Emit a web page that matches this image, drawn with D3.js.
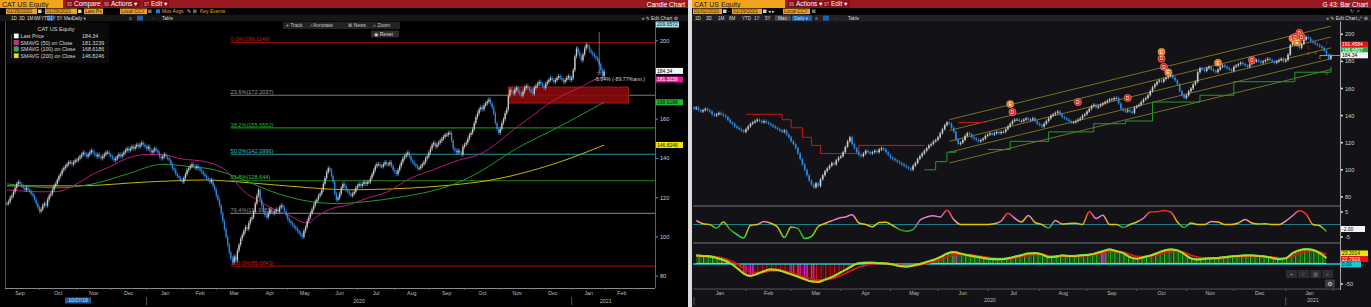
<!DOCTYPE html>
<html>
<head>
<meta charset="utf-8">
<script src="https://cdn.jsdelivr.net/npm/d3@7/dist/d3.min.js"></script>
<style>
  body { margin: 0; background: #000; }
  svg { display: block; }
  text { font-family: "Liberation Sans", "DejaVu Sans", sans-serif; }
</style>
</head>
<body>
<svg id="chart" width="1371" height="307"></svg>
<script>
// ---------- CAT US Equity, daily closes (one array per month) ----------
var closeSep19 = [117,118,120,121,123,125,127,128,127,126,125,124,125,124,123,122,121,119,117,115];
var closeOct19 = [113,114,116,117,116,119,121,122,124,126,127,129,131,132,134,135,136,137,138,138,137,138,139];
var closeNov19 = [139,140,141,142,143,142,141,142,143,144,143,142,141,142,141,140,141,142,143,143,142];
var closeDec19 = [141,140,139,140,141,142,141,142,143,144,145,144,145,146,145,146,147,146,147,148,147,146];
var closeJan20 = [145,146,144,143,144,145,144,143,141,140,141,142,141,140,139,137,135,134,132,131,130,129,128];
var closeFeb20 = [130,132,134,135,136,137,136,135,136,135,134,133,132,131,130,129,128,129,126,124];
var closeMar20 = [121,119,116,112,108,104,100,96,92,89,87,90,88,93,96,99,101,103,105,104,107,109];
var closeApr20 = [110,113,117,121,124,119,116,113,111,110,112,114,113,112,113,114,113,115,116,115,113,111];
var closeMay20 = [109,108,107,106,105,104,103,102,101,100,103,105,108,110,112,114,116,118,119,121,122];
var closeJun20 = [124,127,130,133,135,134,131,128,122,119,120,122,125,127,126,124,123,122,121,122,123,125];
var closeJul20 = [126,127,126,127,128,127,128,128,130,132,134,136,137,137,136,136,137,138,137,137,138,136,134];
var closeAug20 = [133,132,134,136,138,140,141,142,143,141,139,138,137,136,135,135,136,137,138,140,141];
var closeSep20 = [143,145,147,148,146,147,148,149,150,151,152,152,153,153,149,145,144,143,144,143,142,146];
var closeOct20 = [147,148,150,152,153,155,158,161,163,165,166,165,167,168,169,170,168,166,163,158,155,153];
var closeNov20 = [155,158,160,163,165,172,175,174,173,175,176,174,173,172,174,176,177,176,175,174,173];
var closeDec20 = [176,177,178,179,178,177,176,178,179,180,181,180,179,180,181,182,181,180,179,180,181,182,180];
var closeJan21 = [181,185,192,196,194,192,190,193,196,198,197,195,194,193,192,191,190,188,185,182,184.34];
var monthCloses = [closeSep19, closeOct19, closeNov19, closeDec19, closeJan20, closeFeb20, closeMar20,
  closeApr20, closeMay20, closeJun20, closeJul20, closeAug20, closeSep20, closeOct20, closeNov20, closeDec20, closeJan21];
var firstDay = "2019-09-03";

// simple moving averages
var sma50 = [["2019-09-03",124],["2019-10-01",123],["2019-10-15",123],["2019-11-01",127],["2019-11-15",132],
  ["2019-12-02",136],["2019-12-16",140],["2020-01-02",142],["2020-01-15",142],["2020-01-29",140],["2020-02-24",138],
  ["2020-03-11",133],["2020-03-24",124],["2020-04-08",118],["2020-04-22",113.6],["2020-05-04",111],["2020-05-14",107.5],
  ["2020-05-19",107],["2020-05-28",111],["2020-06-10",114.6],["2020-06-22",116],["2020-07-09",119.7],["2020-07-27",122.8],
  ["2020-08-17",130],["2020-09-03",134],["2020-09-25",139],["2020-10-14",142],["2020-11-18",157],["2020-12-24",172],
  ["2021-01-08",176],["2021-01-21",180],["2021-01-29",181.32]];
var sma100 = [["2019-09-03",127],["2019-10-15",125],["2019-11-15",127],["2019-12-16",132],["2020-01-15",137],
  ["2020-02-05",136],["2020-03-02",134],["2020-03-25",129],["2020-04-23",122],["2020-05-21",118],["2020-06-12",117],
  ["2020-07-09",118],["2020-08-04",120],["2020-09-01",123],["2020-09-23",127],["2020-10-14",133],["2020-11-16",145],
  ["2020-12-22",156],["2021-01-29",168.62]];
var sma200 = [["2019-09-03",126],["2019-11-01",126],["2020-01-02",128],["2020-02-20",129],["2020-03-20",128],
  ["2020-05-21",125],["2020-06-24",124],["2020-07-28",124.4],["2020-08-31",125.4],["2020-09-30",127],["2020-10-14",128],
  ["2020-12-22",138],["2021-01-29",146.82]];

var legendTitle = "CAT US Equity";
var legendNames = ["Last Price", "SMAVG (50) on Close", "SMAVG (100) on Close", "SMAVG (200) on Close"];
var legendValues = ["184.34", "181.3239", "168.6186", "146.8246"];
var lastPrice = 184.34;

// Fibonacci retracement
var fibHigh = 199.1149, fibLow = 85.0843;
var fibPcts = [0, 23.6, 38.2, 50, 61.8, 76.4, 100];

// highlighted zone and measure note
var zone = {from: "2020-11-09", to: "2021-02-19", lo: 168.2, hi: 176.4};
var measureNote = "-5.94% (-89.77%ann.)";
var measureTop = 204.5;

var priceTicks = [200, 180, 160, 140, 120, 100, 80];
var monthNames = ["Jan","Feb","Mar","Apr","May","Jun","Jul","Aug","Sep","Oct","Nov","Dec"];

// ---------- right chart studies ----------
// oscillator, one value every 3 trading days from 2020-01-02
var oscVals = [1.6,0.3,0,-1.5,1.0,-2,-4,-5.4,-0.3,0,1.2,0.5,-1,-5.2,-1,-1.6,-5.6,-4.8,-0.8,0.4,
  1.5,2.5,3,3.9,0.6,0,-0.9,0.8,0.9,-0.4,-2,-2.7,-2,1.7,3,3.5,3,5.7,2,0,
  0,0,0,0,0.3,1.4,4.5,2.5,1,3.6,0.8,0,-1.4,1.6,0.2,0.4,0.5,0,5.2,2.4,
  3.7,0,0,-1.2,0,1,2.5,5,5.1,5.6,5,1,-1.2,0.6,0,0,1.2,1,0,0,
  0.6,2,0.6,0.2,0.3,0,0,1.4,3.5,5.5,4.2,0,-0.5,-2.8];
// momentum study, same sampling
var momVals = [21,20,19,15,10,2,-10,-24,-30,-25,-18,-14,-15,-20,-26,-32,-38,-44,-45,-39,
  -33,-24,-15,-5,2,3,3,2,1,-1,-5,-7,-4,0,5,10,17,26,30,26,
  22,19,16,13,12,12,14,18,22,26,27,24,17,18,21,20,20,22,23,27,
  32,36,32,27,17,13,17,21,27,33,36,34,25,14,11,13,14,15,17,19,
  20,21,21,20,18,15,12,14,27,34,37,35,27,15];
var studyStart = "2020-01-02", studyStep = 3;
// samples whose histogram bars show in magenta
var magentaSamples = [7, 8, 14, 15, 16, 17, 38, 60];

// regression channel
var chanFrom = ["2020-06-08", 121], chanTo = ["2021-01-29", 190];
var chanOffsets = [-16, -8, 0, 8, 16];

// trailing stop
var stopSegs = [
  {up: false, pts: [["2020-02-03",141],["2020-02-21",141],["2020-02-25",137],["2020-03-02",131],["2020-03-09",124],
    ["2020-03-13",118],["2020-03-19",112],["2020-04-06",112],["2020-04-13",118],["2020-05-12",118],["2020-05-22",118]]},
  {up: true, pts: [["2020-05-22",100],["2020-05-29",106],["2020-06-05",113],["2020-06-11",114]]},
  {up: false, pts: [["2020-06-12",135],["2020-06-30",135]]},
  {up: true, pts: [["2020-07-01",115],["2020-07-15",121],["2020-08-07",128],["2020-09-04",134],["2020-09-24",136],
    ["2020-10-12",150],["2020-10-30",150],["2020-11-10",155],["2020-12-01",165],["2021-01-07",172],["2021-01-29",176]]}
];

// event markers: date, price level, kind
var events = [["2020-07-15",148.5,"o"],["2020-07-16",142.6,"r"],["2020-08-26",150,"r"],["2020-09-25",153,"r"],
  ["2020-10-16",187,"o"],["2020-10-16",182,"r"],["2020-10-19",176,"r"],["2020-10-21",172,"o"],
  ["2020-11-20",179,"o"],["2020-12-11",181,"r"],
  ["2021-01-06",197,"o"],["2021-01-07",198,"r"],["2021-01-11",201,"r"],["2021-01-12",198,"r"],["2021-01-08",194,"o"]];
// small count labels near the last bars
var countMarks = [["2021-01-15",190.6,"1","#b0302a"],["2021-01-15",185.5,"2","#c0703a"],["2021-01-20",186.2,"5","#c0703a"],
  ["2021-01-22",183,"8","#c0703a"],["2021-01-27",193.6,"1","#d02020"],["2021-01-27",171.4,"6","#c0703a"]];

var rightBoxes = [["191.4584","#e01515","#fff"],["186.6897","#1fae3a","#fff"],["184.34","#f2f2f2","#000"]];

// ---------- helpers ----------
var svg = d3.select("#chart");
svg.append("rect").attr("width", 1371).attr("height", 307).attr("fill", "#dcdcdc");

function addText(g, x, y, s, size, fill, anchor) {
  return g.append("text").attr("x", x).attr("y", y).text(s)
    .attr("font-size", size).attr("fill", fill).attr("text-anchor", anchor || "start");
}
function addRect(g, x, y, w, h, fill) {
  return g.append("rect").attr("x", x).attr("y", y).attr("width", w).attr("height", h).attr("fill", fill);
}

// trading days (weekdays) from the first day
var day0 = new Date(firstDay + "T00:00:00Z");
function isWeekday(d) { var w = d.getUTCDay(); return w !== 0 && w !== 6; }
function dateIdx(s) {
  var t = new Date(s + "T00:00:00Z"), d = new Date(day0), i = 0;
  while (d < t) { if (isWeekday(d)) i++; d.setUTCDate(d.getUTCDate() + 1); }
  return i;
}
var closes = [].concat.apply([], monthCloses);
var days = [];
(function () {
  var d = new Date(day0);
  while (days.length < closes.length) {
    if (isWeekday(d)) days.push(new Date(d));
    d.setUTCDate(d.getUTCDate() + 1);
  }
})();
var candles = closes.map(function (c, i) {
  var o = i ? closes[i - 1] : c;
  return {i: i, date: days[i], open: o, close: c,
    high: Math.max(o, c) + 1.1, low: Math.min(o, c) - 1.1};
});
var nDays = candles.length;

// month starts (including months after the data)
function monthStarts(toYear, toMonth) {
  var out = [], y = 2019, m = 8;
  while (y < toYear || (y === toYear && m <= toMonth)) {
    var s = y + "-" + String(m + 1).padStart(2, "0") + "-01";
    out.push({y: y, m: m, idx: y === 2019 && m === 8 ? 0 : dateIdx(s)});
    m++; if (m > 11) { m = 0; y++; }
  }
  return out;
}
var months = monthStarts(2021, 2);

// =====================================================================
// LEFT PANEL: candle chart
// =====================================================================
var L = svg.append("g");
addRect(L, 0, 0, 688, 307, "#000");

// header rows
addRect(L, 0, 0, 688, 8, "#98191f");
addRect(L, 0, 0, 63, 8, "#f4a31c");
addText(L, 2, 6.6, "CAT US Equity", 7, "#1a1a1a");
[["95", "Compare", 66, 34], ["96", "Actions \u25BE", 103, 37], ["97", "Edit \u25BE", 143, 26]].forEach(function (m) {
  addRect(L, m[2], 0.5, m[3], 7, "#7d1016");
  addText(L, m[2] + 1, 6, m[0], 4.5, "#f2a7ab");
  addText(L, m[2] + 8, 6.3, m[1], 6.5, "#fff");
});
addText(L, 685, 6.5, "Candle Chart", 6.5, "#fff", "end");

[["01/29/2020", 6, 31], ["01/29/2021", 45, 32], ["Last Px", 84, 19], ["Local CCY", 120, 27]].forEach(function (b) {
  addRect(L, b[1], 8.6, b[2], 5.6, "#f0a020");
  addText(L, b[1] + 1, 13.3, b[0], 5, "#3a2400");
});
addRect(L, 38, 9.5, 3.5, 3.5, "#cfcfcf");
addText(L, 42.2, 13, "-", 5, "#ccc");
addRect(L, 78, 9.5, 3.5, 3.5, "#cfcfcf");
addRect(L, 148, 9.5, 3.5, 3.5, "#777");
addRect(L, 156, 9.3, 4, 4, "#2a74d8");
addText(L, 162, 13.3, "Mov Avgs", 5, "#f0a020");
addText(L, 187, 13.3, "\u270E", 5, "#ddd");
addRect(L, 193, 9.5, 3.5, 3.5, "#666");
addText(L, 200, 13.3, "Key Events", 5, "#f0a020");

addRect(L, 0, 14.8, 688, 6.6, "#161616");
var ranges = [["1D", 11], ["3D", 19], ["1M", 27], ["6M", 34], ["YTD", 41], ["1Y", 50], ["5Y", 57], ["Max", 64], ["Daily \u25BE", 72]];
addRect(L, 47.5, 15.4, 6, 5.4, "#1f5fb4");
ranges.forEach(function (r) { addText(L, r[1], 19.8, r[0], 4.6, "#d8d8d8"); });
addText(L, 129, 19.8, "\u2261", 5, "#aaa");
addRect(L, 137, 15.6, 6, 5, "#1f5fb4");
addText(L, 152, 19.8, "\u00B7", 5, "#aaa");
addText(L, 162, 19.8, "Table", 4.6, "#d8d8d8");
addText(L, 678, 19.6, "\u00AB  \u270E Edit Chart  \u2699", 4.8, "#d8d8d8", "end");

// scales
var xL = d3.scaleLinear().domain([0, 400]).range([7, 656]);
var yL = d3.scaleLinear().domain([80, 200]).range([276.1, 40.7]);
var plotL = {x0: 5, x1: 655, y0: 21.5, y1: 288};

L.append("clipPath").attr("id", "clipL").append("rect")
  .attr("x", plotL.x0).attr("y", plotL.y0).attr("width", plotL.x1 - plotL.x0).attr("height", plotL.y1 - plotL.y0);
var LP = L.append("g").attr("clip-path", "url(#clipL)");

// Fibonacci lines
var lowIdx = d3.minIndex(closes);
var fibColors = [["#8e0b0b", "#d01818"], ["#7a7a7a", "#9a9a9a"], ["#108a10", "#22b822"], ["#1c9a9a", "#2cc0c0"],
  ["#1f8a1f", "#38c038"], ["#6c6c6c", "#8c8c8c"], ["#8e0b0b", "#d01818"]];
var fmt4 = d3.format(".4f");
fibPcts.forEach(function (p, k) {
  var v = fibHigh - p / 100 * (fibHigh - fibLow);
  var y = yL(v), x = xL(lowIdx) - 2;
  LP.append("line").attr("x1", x).attr("x2", plotL.x1).attr("y1", y).attr("y2", y)
    .attr("stroke", fibColors[k][0]).attr("stroke-width", 1.1);
  addText(LP, x, y - 1.2, p.toFixed(1) + "%(" + fmt4(v).replace(/0+$/, "") + ")", 5.6, fibColors[k][1]);
});

// zone box
LP.append("rect").attr("x", xL(dateIdx(zone.from))).attr("y", yL(zone.hi))
  .attr("width", xL(dateIdx(zone.to)) - xL(dateIdx(zone.from))).attr("height", yL(zone.lo) - yL(zone.hi))
  .attr("fill", "#8a0a0a").attr("fill-opacity", 0.9).attr("stroke", "#b81c1c").attr("stroke-width", 0.8);

// moving averages
var lineL = d3.line().x(function (d) { return xL(dateIdx(d[0])); }).y(function (d) { return yL(d[1]); })
  .curve(d3.curveMonotoneX);
[[sma200, "#c8b400"], [sma100, "#1f9a2a"], [sma50, "#c0157f"]].forEach(function (s) {
  LP.append("path").attr("d", lineL(s[0])).attr("fill", "none").attr("stroke", s[1]).attr("stroke-width", 1);
});

// candles
function candleColor(d) { return d.close >= d.open ? "#cdcdcd" : "#2e8ce8"; }
var cg = LP.append("g");
cg.selectAll("line").data(candles).enter().append("line")
  .attr("x1", function (d) { return xL(d.i); }).attr("x2", function (d) { return xL(d.i); })
  .attr("y1", function (d) { return yL(d.high); }).attr("y2", function (d) { return yL(d.low); })
  .attr("stroke", candleColor).attr("stroke-width", 0.6);
cg.selectAll("rect").data(candles).enter().append("rect")
  .attr("x", function (d) { return xL(d.i) - 0.65; }).attr("width", 1.3)
  .attr("y", function (d) { return yL(Math.max(d.open, d.close)); })
  .attr("height", function (d) { return Math.max(0.8, Math.abs(yL(d.open) - yL(d.close))); })
  .attr("fill", candleColor);

// measure note
var mX = xL(nDays - 4);
LP.append("line").attr("x1", mX).attr("x2", mX).attr("y1", yL(measureTop)).attr("y2", yL(lastPrice) + 2)
  .attr("stroke", "#9a9a9a").attr("stroke-width", 0.7);
addText(LP, mX, yL(lastPrice) + 4, "\u2606", 6, "#ddd", "middle");
addText(LP, mX - 5, yL(lastPrice) + 9.5, measureNote, 5.2, "#cfcfcf");

// toolbar + legend
addRect(L, 283, 22, 117, 7, "#232323");
addText(L, 286, 27.4, "+  Track", 5, "#c8c8c8");
addText(L, 311, 27.4, "\u2215  Annotate", 5, "#c8c8c8");
addText(L, 348, 27.4, "\u2263  News", 5, "#c8c8c8");
addText(L, 373, 27.4, "\u2315  Zoom", 5, "#c8c8c8");
addRect(L, 371, 30.5, 28, 7, "#2c2c2c");
addText(L, 374, 35.6, "\u25C9  Reset", 5, "#d8d8d8");

addRect(L, 7, 23, 102, 40, "#0b0b0b");
addText(L, 56, 30.5, legendTitle, 5.6, "#d8d8d8", "middle");
var legendColors = ["#ffffff", "#e0189a", "#22b833", "#f2e600"];
L.append("line").attr("x1", 11.5).attr("x2", 11.5).attr("y1", 34.5).attr("y2", 58).attr("stroke", "#666").attr("stroke-width", 0.6);
legendNames.forEach(function (n, k) {
  var y = 38 + k * 6.6;
  addRect(L, 14, y - 4.4, 4.6, 4.6, legendColors[k]).attr("stroke", "#888").attr("stroke-width", 0.4);
  addText(L, 20.5, y, n, 5.3, "#d8d8d8");
  addText(L, 82, y, legendValues[k], 5.3, "#d8d8d8");
});

// price axis
L.append("line").attr("x1", 655.5).attr("x2", 655.5).attr("y1", 21.5).attr("y2", 288).attr("stroke", "#1f6fd0").attr("stroke-width", 1);
L.append("line").attr("x1", 5.5).attr("x2", 5.5).attr("y1", 21.5).attr("y2", 288).attr("stroke", "#1f6fd0").attr("stroke-width", 0.8);
priceTicks.forEach(function (t) {
  var y = yL(t);
  addRect(L, 655.5, y - 0.6, 2.4, 1.2, "#2f86f0");
  if (t !== 180) addText(L, 660, y + 2, String(t), 5.6, "#cfcfcf");
});
function axisBox(g, x, y, w, label, bg, fg) {
  addRect(g, x, y - 3, w, 6, bg);
  addText(g, x + 1, y + 1.8, label, 5, fg);
}
axisBox(L, 656, 24.5, 23, "209.6572", "#a6dce8", "#0a2a3a");
axisBox(L, 656, yL(lastPrice) - 0.5, 27, legendValues[0], "#f4f4f4", "#000");
axisBox(L, 656, yL(181.3239) + 2.2, 27, legendValues[1], "#e0189a", "#fff");
axisBox(L, 656, yL(168.6186), 27, legendValues[2], "#22b833", "#001a00");
axisBox(L, 656, yL(146.8246), 27, legendValues[3], "#f2e600", "#1a1a00");

// time axis
L.append("line").attr("x1", 5).attr("x2", 655).attr("y1", 288.5).attr("y2", 288.5).attr("stroke", "#8a8a8a").attr("stroke-width", 1);
months.forEach(function (m, k) {
  var x0 = xL(m.idx);
  var nextIdx = k + 1 < months.length ? months[k + 1].idx : m.idx + 21;
  if (k > 0) L.append("line").attr("x1", x0).attr("x2", x0).attr("y1", 288).attr("y2", 290).attr("stroke", "#8a8a8a").attr("stroke-width", 0.6);
  if (k < months.length - 1 && m.idx < 399) {
    var xc = k === 0 ? xL(8) : xL(m.idx + (nextIdx - m.idx) / 2);
    addText(L, xc, 295, monthNames[m.m], 5.3, "#bdbdbd", "middle");
  }
  if (m.m === 0) L.append("line").attr("x1", x0).attr("x2", x0).attr("y1", 297).attr("y2", 305).attr("stroke", "#777").attr("stroke-width", 0.7);
});
addText(L, xL((dateIdx("2020-01-01") + dateIdx("2021-01-01")) / 2), 303, "2020", 5.3, "#bdbdbd", "middle");
addText(L, xL(dateIdx("2021-02-01")), 303, "2021", 5.3, "#bdbdbd", "middle");
addRect(L, 65, 297.5, 26, 6, "#1d5aa6");
addText(L, 78, 302.3, "10/07/19", 5, "#cfe4ff", "middle");

// =====================================================================
// RIGHT PANEL: bar chart with studies
// =====================================================================
var R = svg.append("g");
addRect(R, 692, 0, 679, 307, "#131317");
addRect(R, 692, 0, 679, 8, "#98191f");
addRect(R, 692, 0, 93, 8, "#f4a31c");
addText(R, 694, 6.6, "CAT US Equity", 7, "#1a1a1a");
[["96", "Actions \u25BE", 788, 33], ["97", "Edit \u25BE", 823, 27]].forEach(function (m) {
  addRect(R, m[2], 0.5, m[3], 7, "#7d1016");
  addText(R, m[2] + 1, 6, m[0], 4.5, "#f2a7ab");
  addText(R, m[2] + 8, 6.3, m[1], 6.5, "#fff");
});
addText(R, 1368, 6.5, "G 43: Bar Chart", 6.5, "#fff", "end");
addRect(R, 692, 8, 679, 7, "#000");
[["01/02/2020", 693, 29], ["01/29/2021", 732, 30], ["Local CCY", 783, 27]].forEach(function (b) {
  addRect(R, b[1], 8.6, b[2], 5.6, "#f0a020");
  addText(R, b[1] + 1, 13.3, b[0], 5, "#3a2400");
});
addRect(R, 723, 9.5, 3.5, 3.5, "#cfcfcf");
addText(R, 728, 13, "-", 5, "#ccc");
addRect(R, 763, 9.5, 3.5, 3.5, "#cfcfcf");
addText(R, 768, 13.2, "\u25C2 \u25B8", 5, "#ddd");
addRect(R, 812, 9.5, 3.5, 3.5, "#777");
addText(R, 1355, 13, "\u21BB   \u2197", 5, "#aaa", "middle");

addRect(R, 692, 14.8, 679, 6.6, "#222226");
addRect(R, 775, 15.4, 16, 5.4, "#4a4a4e");
addRect(R, 792, 15.4, 20, 5.4, "#1f5fb4");
addRect(R, 823, 15.6, 6, 5, "#1f5fb4");
[["1D", 695], ["3D", 706], ["1M", 718], ["6M", 729], ["YTD", 742], ["1Y", 754], ["5Y", 765], ["Max", 778], ["Daily \u25BE", 794]]
  .forEach(function (r) { addText(R, r[1], 19.8, r[0], 4.6, "#d8d8d8"); });
addText(R, 815, 19.8, "\u2261", 5, "#aaa");
addText(R, 836, 19.8, "\u00B7", 5, "#aaa");
addText(R, 848, 19.8, "Table", 4.6, "#d8d8d8");
addText(R, 1368, 19.6, "\u00AB  \u270E Edit Chart  \u2922  \u2699", 4.8, "#d8d8d8", "end");

var r0 = dateIdx("2020-01-01");
var xR = d3.scaleLinear().domain([r0, r0 + 286]).range([694, 1340]);
var yR = d3.scaleLinear().domain([80, 200]).range([196.9, 34.3]);
var yO = d3.scaleLinear().domain([-5, 5]).range([237, 212]);
var yM = d3.scaleLinear().domain([-50, 0]).range([284, 264]);

R.append("clipPath").attr("id", "clipR").append("rect").attr("x", 693).attr("y", 21.5).attr("width", 647).attr("height", 184);
var RP = R.append("g").attr("clip-path", "url(#clipR)");

// regression channel
chanOffsets.forEach(function (o) {
  RP.append("line").attr("x1", xR(dateIdx(chanFrom[0]))).attr("x2", xR(dateIdx(chanTo[0])))
    .attr("y1", yR(chanFrom[1] + o)).attr("y2", yR(chanTo[1] + o))
    .attr("stroke", o === 0 ? "#8a7d1c" : "#7d7a2a").attr("stroke-width", 0.9);
});

// trailing stop
var lineR = d3.line().x(function (d) { return xR(dateIdx(d[0])); }).y(function (d) { return yR(d[1]); })
  .curve(d3.curveStepAfter);
stopSegs.forEach(function (s) {
  RP.append("path").attr("d", lineR(s.pts)).attr("fill", "none")
    .attr("stroke", s.up ? "#1f9d2b" : "#d01515").attr("stroke-width", 1);
});

// bars
var rCandles = candles.filter(function (d) { return d.i >= r0; });
var rg = RP.append("g");
rg.selectAll("line").data(rCandles).enter().append("line")
  .attr("x1", function (d) { return xR(d.i); }).attr("x2", function (d) { return xR(d.i); })
  .attr("y1", function (d) { return yR(d.high); }).attr("y2", function (d) { return yR(d.low); })
  .attr("stroke", candleColor).attr("stroke-width", 0.7);
rg.selectAll("rect").data(rCandles).enter().append("rect")
  .attr("x", function (d) { return xR(d.i) - 0.8; }).attr("width", 1.6)
  .attr("y", function (d) { return yR(Math.max(d.open, d.close)); })
  .attr("height", function (d) { return Math.max(0.8, Math.abs(yR(d.open) - yR(d.close))); })
  .attr("fill", candleColor);
RP.append("line").attr("x1", xR(nDays - 6)).attr("x2", 1340).attr("y1", yR(lastPrice)).attr("y2", yR(lastPrice))
  .attr("stroke", "#d88a1a").attr("stroke-width", 1);

// event markers
events.forEach(function (e) {
  var x = xR(dateIdx(e[0])), y = yR(e[1]);
  RP.append("circle").attr("cx", x).attr("cy", y).attr("r", 3.6)
    .attr("fill", e[2] === "o" ? "#e87a12" : "#d42020").attr("stroke", "#ffb070").attr("stroke-width", 0.5);
  addText(RP, x, y + 1.8, e[2] === "o" ? "E" : "D", 4.5, "#fff", "middle");
});
countMarks.forEach(function (c) {
  addText(RP, xR(dateIdx(c[0])), yR(c[1]) + 1.5, c[2], 4.2, c[3], "middle");
});

// panel frames
R.append("line").attr("x1", 693).attr("x2", 1340).attr("y1", 206).attr("y2", 206).attr("stroke", "#55555c").attr("stroke-width", 1.6);
R.append("line").attr("x1", 693).attr("x2", 1340).attr("y1", 243).attr("y2", 243).attr("stroke", "#55555c").attr("stroke-width", 1.6);

// oscillator panel
var oscPts = oscVals.map(function (v, k) { return {i: dateIdx(studyStart) + k * studyStep, v: v}; });
function oscColor(v) {
  if (v >= 4.2) return "#ff2424";
  if (v >= 1.2) return "#e77ad8";
  if (v > -1.2) return "#e4c400";
  if (v > -3) return "#1e9e2c";
  return "#2ae33a";
}
var defs = R.append("defs");
var grad = defs.append("linearGradient").attr("id", "oscGrad").attr("gradientUnits", "userSpaceOnUse")
  .attr("x1", xR(oscPts[0].i)).attr("x2", xR(oscPts[oscPts.length - 1].i)).attr("y1", 0).attr("y2", 0);
oscPts.forEach(function (p, k) {
  grad.append("stop").attr("offset", k / (oscPts.length - 1)).attr("stop-color", oscColor(p.v));
});
R.append("line").attr("x1", 693).attr("x2", 1340).attr("y1", yO(0)).attr("y2", yO(0)).attr("stroke", "#1e9aa8").attr("stroke-width", 0.8);
R.append("path").attr("d", d3.line().x(function (d) { return xR(d.i); }).y(function (d) { return yO(d.v); })
  .curve(d3.curveMonotoneX)(oscPts)).attr("fill", "none").attr("stroke", "url(#oscGrad)").attr("stroke-width", 1.5);

// momentum panel
function stripes(id, c1, c2, bg) {
  var p = defs.append("pattern").attr("id", id).attr("patternUnits", "userSpaceOnUse")
    .attr("width", 4.52).attr("height", 10).attr("x", 694);
  p.append("rect").attr("width", 4.52).attr("height", 10).attr("fill", bg);
  p.append("rect").attr("x", 0).attr("width", 1.2).attr("height", 10).attr("fill", c1);
  p.append("rect").attr("x", 2.26).attr("width", 1.2).attr("height", 10).attr("fill", c2);
}
stripes("posBars", "#38c238", "#1c7a1c", "#0b2c0b");
stripes("negBars", "#c81a1a", "#7a0a0a", "#2a0505");
var momPts = momVals.map(function (v, k) { return {i: dateIdx(studyStart) + k * studyStep, v: v}; });
var areaPos = d3.area().x(function (d) { return xR(d.i); }).y0(yM(0)).y1(function (d) { return yM(Math.max(0, d.v)); }).curve(d3.curveMonotoneX);
var areaNeg = d3.area().x(function (d) { return xR(d.i); }).y0(yM(0)).y1(function (d) { return yM(Math.min(0, d.v)); }).curve(d3.curveMonotoneX);
R.append("path").attr("d", areaPos(momPts)).attr("fill", "url(#posBars)");
R.append("path").attr("d", areaNeg(momPts)).attr("fill", "url(#negBars)");
magentaSamples.forEach(function (k) {
  var p = momPts[k], y = yM(p.v);
  [0, 2.26].forEach(function (dx) {
    addRect(R, xR(p.i) + dx - 0.6, Math.min(y, yM(0)), 1.2, Math.abs(y - yM(0)), "#e020e0");
  });
});
R.append("line").attr("x1", 693).attr("x2", 1340).attr("y1", yM(0)).attr("y2", yM(0)).attr("stroke", "#18c8d8").attr("stroke-width", 1.4);
momPts.forEach(function (p, k) {
  var q = momPts[k + 1];
  if (q && p.v > 0 && q.v > 0)
    R.append("line").attr("x1", xR(p.i)).attr("x2", xR(q.i)).attr("y1", yM(0) - 0.6).attr("y2", yM(0) - 0.6)
      .attr("stroke", "#e6cf00").attr("stroke-width", 1);
});
var sig = [], e = momVals[0];
momVals.forEach(function (v) { e = e + 0.45 * (v - e); sig.push(e); });
var sigPts = sig.map(function (v, k) { return {i: dateIdx(studyStart) + k * studyStep, v: v}; });
var lineM = d3.line().x(function (d) { return xR(d.i); }).y(function (d) { return yM(d.v); }).curve(d3.curveMonotoneX);
R.append("path").attr("d", lineM(sigPts)).attr("fill", "none").attr("stroke", "#d81818").attr("stroke-width", 1.8);
R.append("path").attr("d", lineM(momPts)).attr("fill", "none").attr("stroke", "#e6cf00").attr("stroke-width", 2);
R.append("path").attr("d", lineM(momPts)).attr("fill", "none").attr("stroke", "#4cf04c").attr("stroke-width", 0.9)
  .attr("transform", "translate(0,-0.6)");

// right price axis
R.append("line").attr("x1", 1340.5).attr("x2", 1340.5).attr("y1", 21.5).attr("y2", 290).attr("stroke", "#a8a8a8").attr("stroke-width", 1);
priceTicks.forEach(function (t) {
  addRect(R, 1341, yR(t) - 0.8, 1.8, 1.6, "#e8e8e8");
  addText(R, 1345, yR(t) + 2, String(t), 5.6, "#d0d0d0");
});
rightBoxes.forEach(function (b, k) { axisBox(R, 1341, 44.5 + k * 5.4, 27, b[0], b[1], b[2]); });
[[5, "5"], [-5, "-5"]].forEach(function (t) {
  addRect(R, 1341, yO(t[0]) - 0.8, 1.8, 1.6, "#e8e8e8");
  addText(R, 1345, yO(t[0]) + 2, t[1], 5.6, "#d0d0d0");
});
axisBox(R, 1341, 229, 24, "-2.00", "#f4f4f4", "#000");
axisBox(R, 1341, 253.5, 27, "23.2014", "#f2e600", "#1a1a00");
axisBox(R, 1341, 259, 27, "22.7919", "#e01515", "#fff");
axisBox(R, 1341, 264.5, 20, "0.00", "#18c8d8", "#002a30");
addRect(R, 1341, yM(-50) - 0.8, 1.8, 1.6, "#e8e8e8");
addText(R, 1345, yM(-50) + 2, "-50", 5.6, "#d0d0d0");

// tool buttons
[1286, 1298, 1310, 1322].forEach(function (x, k) {
  addRect(R, x, 270, 11, 8, "#2c2c32");
  addText(R, x + 5.5, 276, ["+", "\u2215", "\u25A5", "\u2315"][k], 5, "#999", "middle");
});
addRect(R, 1325, 279.5, 10, 8, "#3a3a40");
addText(R, 1330, 285.6, "\u2699", 6, "#ddd", "middle");

// time axis
R.append("line").attr("x1", 693).attr("x2", 1340).attr("y1", 289).attr("y2", 289).attr("stroke", "#55555c").attr("stroke-width", 1);
months.forEach(function (m, k) {
  if (m.idx < r0 || k + 1 >= months.length) return;
  var nx = months[k + 1].idx;
  var xc = xR(m.idx + (nx - m.idx) / 2);
  if (xc < 1336) addText(R, xc, 295, monthNames[m.m], 5.3, "#bdbdbd", "middle");
  if (m.idx > r0) R.append("line").attr("x1", xR(m.idx)).attr("x2", xR(m.idx)).attr("y1", 289).attr("y2", 291).attr("stroke", "#777").attr("stroke-width", 0.6);
  if (m.m === 0) R.append("line").attr("x1", xR(m.idx)).attr("x2", xR(m.idx)).attr("y1", 297).attr("y2", 305).attr("stroke", "#777").attr("stroke-width", 0.7);
});
addText(R, xR((r0 + dateIdx("2021-01-01")) / 2), 302, "2020", 5.3, "#bdbdbd", "middle");
addText(R, xR(dateIdx("2021-01-01")) + 27, 302, "2021", 5.3, "#bdbdbd", "middle");
</script>
</body>
</html>
